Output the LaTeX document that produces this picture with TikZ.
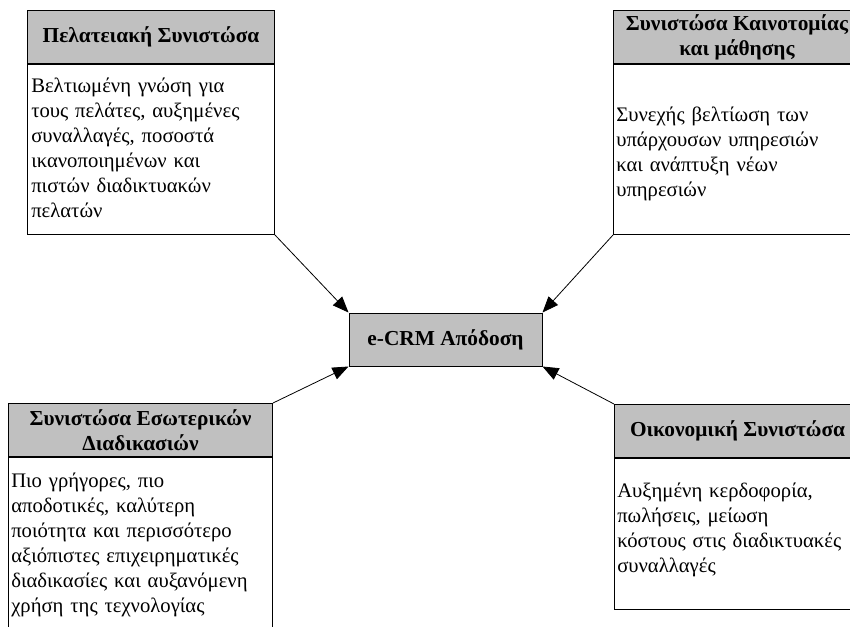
\documentclass[tikz,border=0pt]{standalone}
\usepackage{fontspec}
\setmainfont{Liberation Serif}
\usetikzlibrary{arrows.meta}
\definecolor{hdrgray}{HTML}{C0C0C0}
\begin{document}
\begin{tikzpicture}[x=0.75pt,y=-0.75pt,
  frame/.style={draw=black, line width=0.75pt, inner sep=0pt, anchor=north west},
  hdr/.style={frame, fill=hdrgray, font=\bfseries\fontsize{16}{18.75}\selectfont, align=center},
  bodytext/.style={anchor=base west, inner sep=0pt, text width=300pt, align=left,
    font=\fontsize{15.5}{18.75}\selectfont},
  link/.style={-{Triangle[length=12pt,width=9.5pt]}, line width=0.6pt}
]
\useasboundingbox (0,0) rectangle (850,626);
\clip (0,0) rectangle (850,626);

% customer perspective
\node[hdr, minimum width=185.25pt, minimum height=39.75pt] (h1) at (27,10) {Πελατειακή Συνιστώσα};
\node[frame, minimum width=185.25pt, minimum height=127.5pt] (b1) at (h1.south west) {};
\node[bodytext] (t1) at (31,92) {Βελτιωμένη γνώση για\\ τους πελάτες, αυξημένες\\ συναλλαγές, ποσοστά\\ ικανοποιημένων και\\ πιστών διαδικτυακών\\ πελατών};

% innovation and learning perspective
\node[hdr, minimum width=185.25pt, minimum height=39.75pt] (h2) at (613,10) {Συνιστώσα Καινοτομίας\\ και μάθησης};
\node[frame, minimum width=185.25pt, minimum height=127.5pt] (b2) at (h2.south west) {};
\node[bodytext] (t2) at (616,121) {Συνεχής βελτίωση των\\ υπάρχουσων υπηρεσιών\\ και ανάπτυξη νέων\\ υπηρεσιών};

% internal processes perspective
\node[hdr, minimum width=198pt, minimum height=39.75pt] (h3) at (8,403) {Συνιστώσα Εσωτερικών\\ Διαδικασιών};
\node[frame, minimum width=198pt, minimum height=153pt] (b3) at (h3.south west) {};
\node[bodytext] (t3) at (11,487) {Πιο γρήγορες, πιο\\ αποδοτικές, καλύτερη\\ ποιότητα και περισσότερο\\ αξιόπιστες επιχειρηματικές\\ διαδικασίες και αυξανόμενη\\ χρήση της τεχνολογίας};

% financial perspective
\node[hdr, minimum width=184.5pt, minimum height=39.75pt] (h4) at (614,404) {Οικονομική Συνιστώσα};
\node[frame, minimum width=184.5pt, minimum height=113.25pt] (b4) at (h4.south west) {};
\node[bodytext] (t4) at (617,497) {Αυξημένη κερδοφορία,\\ πωλήσεις, μείωση\\ κόστους στις διαδικτυακές\\ συναλλαγές};

% central performance box
\node[hdr, anchor=center, minimum width=144.75pt, minimum height=39.75pt] (perf) at (445.5,339.5) {e-CRM Απόδοση};

\draw[link] (b1.south east) -- (perf.north west);
\draw[link] (b2.south west) -- (perf.north east);
\draw[link] (h3.north east) -- (perf.south west);
\draw[link] (h4.north west) -- (perf.south east);
\end{tikzpicture}
\end{document}
